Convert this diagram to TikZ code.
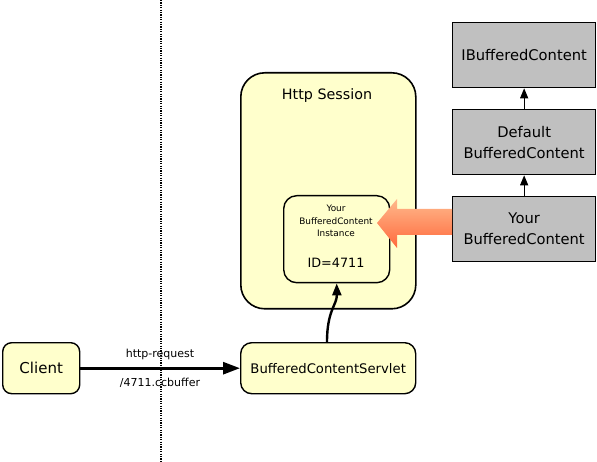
\documentclass[tikz,border=0pt]{standalone}
\usepackage{fontspec}
\setmainfont{DejaVu Sans}
\usetikzlibrary{arrows.meta,shadings}
\definecolor{lightyel}{RGB}{255,255,204}
\definecolor{greybox}{RGB}{192,192,192}
\definecolor{orlight}{RGB}{255,185,140}
\definecolor{ordark}{RGB}{255,105,60}
\begin{document}
\begin{tikzpicture}[x=1pt,y=-1pt,
  ybox/.style={draw=black,line width=1.4pt,fill=lightyel,rounded corners=9pt},
  gbox/.style={draw=black,line width=1.3pt,fill=greybox},
  lbl/.style={font=\fontsize{14.7}{21}\selectfont,align=center,inner sep=0pt},
  small/.style={font=\fontsize{11}{13}\selectfont,inner sep=0pt},
  gtip/.style={-{Triangle[length=10pt,width=8pt]},line width=1pt}
]
\useasboundingbox (0,0) rectangle (597,462);
% dotted divider
\coordinate (dtop) at (161,0);
\coordinate (dbot) at (161,462);
\draw[dash pattern=on 1.2pt off 1.2pt,line width=1.1pt] (dtop) -- (dbot);
% http session
\node[ybox,rounded corners=24pt,minimum width=175pt,minimum height=236pt,anchor=north west,line width=1.6pt] (sess) at (240,72) {};
\node[lbl,font=\fontsize{14.3}{16}\selectfont] (sesslbl) at (327,96) {Http Session};
% inner instance box
\node[ybox,rounded corners=13pt,minimum width=106pt,minimum height=87pt,anchor=north west] (inst) at (283,195) {};
\node[align=center,inner sep=0pt,font=\fontsize{8.9}{12.5}\selectfont] (instlbl) at (336,221) {Your\\BufferedContent\\Instance};
\node[lbl,font=\fontsize{12.8}{15}\selectfont] (idlbl) at (336,263) {ID=4711};
% client & servlet
\node[ybox,minimum width=77pt,minimum height=51pt,anchor=north west] (client) at (2,342) {};
\node[lbl,font=\fontsize{15}{17}\selectfont] at (client.center) {Client};
\node[ybox,rounded corners=11pt,minimum width=175pt,minimum height=51pt,anchor=north west] (servlet) at (240,342) {};
\node[lbl,font=\fontsize{13.2}{15}\selectfont] at (servlet.center) {BufferedContentServlet};
% grey boxes
\node[gbox,minimum width=143pt,minimum height=65pt,anchor=north west] (ibc) at (452,22) {};
\node[lbl] at (ibc.center) {IBufferedContent};
\node[gbox,minimum width=143pt,minimum height=65pt,anchor=north west] (dbc) at (452,109) {};
\node[lbl] at (dbc.center) {Default\\BufferedContent};
\node[gbox,minimum width=143pt,minimum height=65pt,anchor=north west] (ybc) at (452,196) {};
\node[lbl] at (ybc.center) {Your\\BufferedContent};
% inheritance arrows
\draw[gtip] (dbc.north) -- (ibc.south);
\draw[gtip] (ybc.north) -- (dbc.south);
% request arrow
\draw[-{Triangle[length=17pt,width=12pt]},line width=2.8pt] (client.east) -- (servlet.west);
\node[small] (req) at (160,354) {http-request};
\node[small] (url) at (160,383) {/4711.ccbuffer};
% servlet to instance
\coordinate (sv) at (327,342);
\draw[-{Triangle[length=12pt,width=9pt]},line width=2.4pt] (sv) .. controls (327,310) and (337,305) .. (inst.south);
% orange big arrow
\shade[top color=orlight,bottom color=ordark]
  (ybc.west |- 0,209) -- (397,209) -- (397,199) -- (377,223) -- (397,248) -- (397,235) -- (ybc.west |- 0,235) -- cycle;
\end{tikzpicture}
\end{document}
